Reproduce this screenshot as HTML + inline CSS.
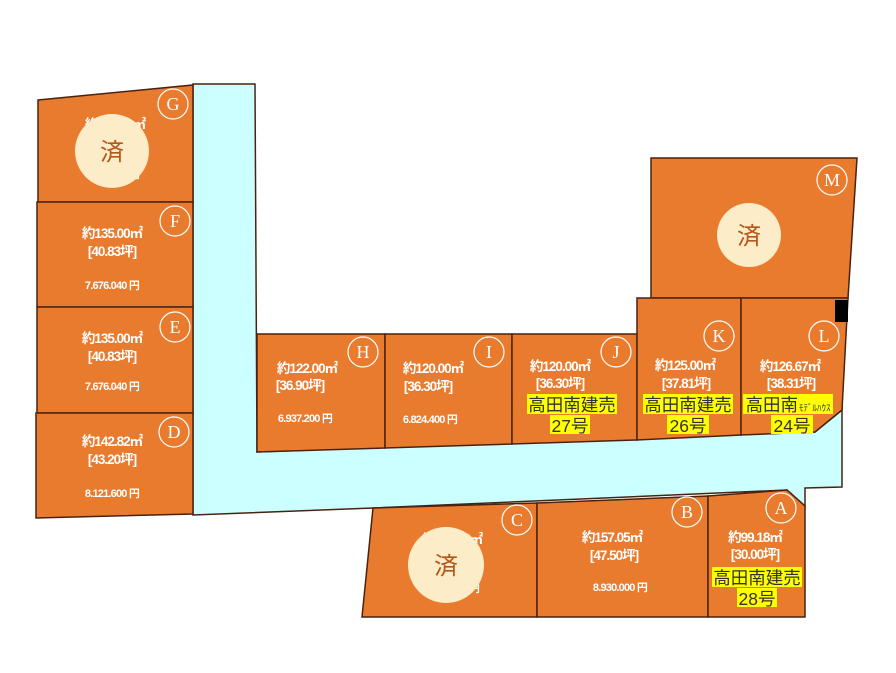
<!DOCTYPE html>
<html><head><meta charset="utf-8"><style>
body{margin:0;background:#fff;width:896px;height:668px;overflow:hidden}
svg text{font-family:"Liberation Sans","Noto Sans CJK JP",sans-serif}
.w text{fill:#fff;font-size:13.5px;font-weight:bold;letter-spacing:-1px}
.p text{fill:#fff;font-size:11px;font-weight:bold;letter-spacing:-0.8px}
.l text{fill:#fff;font-family:"Liberation Serif",serif;font-size:18px}
.y text{fill:#333;font-size:17.5px}
</style></head><body>
<svg width="896" height="668" viewBox="0 0 896 668">
<g stroke="#4a2210" stroke-width="1.5">
<!-- road -->
<polygon points="193,84 255,84 257,452 815,432 842,410 842,487 805,488 805,506 787,490 373,508 193,515" fill="#ccffff"/>
<!-- left column -->
<polygon points="38,100 193,85 193,202 38,202" fill="#e87b2e"/>
<rect x="37" y="202" width="156" height="105" fill="#e87b2e"/>
<rect x="37" y="307" width="156" height="106" fill="#e87b2e"/>
<polygon points="36,413 193,413 193,514 36,518" fill="#e87b2e"/>
<!-- M -->
<polygon points="651,158 857,158 848,298 651,298" fill="#e87b2e"/>
<!-- H row -->
<polygon points="257,334 385,334 385,448 257,452" fill="#e87b2e"/>
<polygon points="385,334 512,334 512,444 385,448" fill="#e87b2e"/>
<polygon points="512,334 637,334 637,440 512,444" fill="#e87b2e"/>
<polygon points="637,298 741,298 741,435 637,440" fill="#e87b2e"/>
<polygon points="741,298 848,298 842,410 815,432 741,435" fill="#e87b2e"/>
<!-- bottom row -->
<polygon points="373,508 537,503 537,617 362,617" fill="#e87b2e"/>
<polygon points="537,503 708,496 708,617 537,617" fill="#e87b2e"/>
<polygon points="708,496 787,490 805,506 805,617 708,617" fill="#e87b2e"/>
</g>
<rect x="835" y="300" width="13" height="22" fill="#000"/>
<!-- letter circles -->
<g fill="none" stroke="#fff" stroke-width="1.2">
<circle cx="173" cy="104" r="15"/><circle cx="175" cy="221" r="15"/><circle cx="175" cy="327" r="15"/><circle cx="174" cy="432" r="15"/>
<circle cx="363" cy="352" r="15"/><circle cx="489" cy="352" r="15"/><circle cx="616" cy="352" r="15"/><circle cx="719" cy="336" r="15"/><circle cx="824" cy="336" r="15"/>
<circle cx="832" cy="180" r="15"/><circle cx="517" cy="520" r="15"/><circle cx="687" cy="512" r="15"/><circle cx="781" cy="508" r="15"/>
</g>
<g class="l" text-anchor="middle">
<text x="173" y="110">G</text><text x="175" y="227">F</text><text x="175" y="333">E</text><text x="174" y="438">D</text>
<text x="363" y="358">H</text><text x="489" y="358">I</text><text x="616" y="358">J</text><text x="719" y="342">K</text><text x="824" y="342">L</text>
<text x="832" y="186">M</text><text x="517" y="526">C</text><text x="687" y="518">B</text><text x="781" y="514">A</text>
</g>
<!-- texts -->
<g class="w" text-anchor="middle">
<text x="115" y="129">約135.00㎡</text>
<text x="112" y="238">約135.00㎡</text><text x="112" y="256">[40.83坪]</text>
<text x="112" y="343">約135.00㎡</text><text x="112" y="361">[40.83坪]</text>
<text x="112" y="446">約142.82㎡</text><text x="112" y="464">[43.20坪]</text>
<text x="307" y="373">約122.00㎡</text><text x="300" y="390">[36.90坪]</text>
<text x="433" y="373">約120.00㎡</text><text x="428" y="391">[36.30坪]</text>
<text x="560" y="371">約120.00㎡</text><text x="560" y="388">[36.30坪]</text>
<text x="685" y="370">約125.00㎡</text><text x="686" y="388">[37.81坪]</text>
<text x="790" y="371">約126.67㎡</text><text x="791" y="388">[38.31坪]</text>
<text x="452" y="544">約157.05㎡</text>
<text x="612" y="542">約157.05㎡</text><text x="614" y="560">[47.50坪]</text>
<text x="755" y="542">約99.18㎡</text><text x="755" y="559">[30.00坪]</text>
</g>
<g class="p" text-anchor="middle">
<text x="112" y="178">8.676.040 円</text>
<text x="112" y="289">7.676.040 円</text>
<text x="112" y="390">7.676.040 円</text>
<text x="112" y="497">8.121.600 円</text>
<text x="305" y="422">6.937.200 円</text>
<text x="430" y="423">6.824.400 円</text>
<text x="452" y="592">9.000.000 円</text>
<text x="620" y="591">8.930.000 円</text>
</g>
<!-- yellow labels -->
<g fill="#ffff00">
<rect x="527" y="394" width="90" height="20"/><rect x="550" y="415" width="40" height="19"/>
<rect x="643" y="394" width="90" height="20"/><rect x="667" y="415" width="42" height="19"/>
<rect x="743" y="394" width="90" height="20"/><rect x="771" y="415" width="42" height="19"/>
<rect x="712" y="567" width="90" height="20"/><rect x="737" y="588" width="40" height="19"/>
</g>
<g class="y" text-anchor="middle">
<text x="572" y="411">高田南建売</text><text x="570" y="432">27号</text>
<text x="688" y="411">高田南建売</text><text x="688" y="432">26号</text>
<text x="788" y="411">高田南<tspan style="font-size:9px" dx="1">ﾓﾃﾞﾙﾊｳｽ</tspan></text><text x="792" y="432">24号</text>
<text x="757" y="584">高田南建売</text><text x="757" y="605">28号</text>
</g>
<!-- sold badges -->
<g fill="#fdecc8"><circle cx="112" cy="151" r="37"/><circle cx="749" cy="235" r="32"/><circle cx="446" cy="565" r="38"/></g>
<g fill="#b5561b" font-size="24" text-anchor="middle">
<text x="112" y="160">済</text><text x="749" y="244">済</text><text x="446" y="574">済</text>
</g>
</svg>
</body></html>
